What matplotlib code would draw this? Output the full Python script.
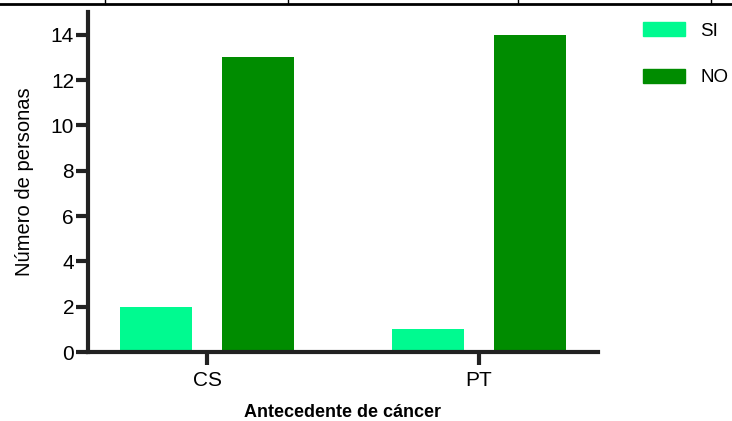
import numpy as np
import matplotlib.pyplot as plt
from matplotlib.lines import Line2D
from matplotlib.patches import Patch

categories = ["CS", "PT"]
si_vals = [2, 1]
no_vals = [13, 14]
series_names = ["SI", "NO"]

plt.rcParams['font.family'] = ['Liberation Sans', 'DejaVu Sans']

fig = plt.figure(figsize=(7.32, 4.21), dpi=100)
ax = fig.add_axes([88 / 732, (421 - 352) / 421, (598 - 88) / 732, (352 - 12) / 421])

x = np.arange(len(categories))
w = 0.268
off = 0.1875
c_si = "#00fa90"
c_no = "#008c00"
ax.bar(x - off, si_vals, w, color=c_si, label=series_names[0])
ax.bar(x + off, no_vals, w, color=c_no, label=series_names[1])

ax.set_xlim(-0.4375, 1.4375)
ax.set_ylim(0, 15)
ax.set_yticks(range(0, 15, 2))
ax.set_xticks(x)
ax.set_xticklabels(categories)

for s in ["top", "right"]:
    ax.spines[s].set_visible(False)
for s in ["left", "bottom"]:
    ax.spines[s].set_linewidth(3)
    ax.spines[s].set_color("#222222")
ax.tick_params(axis="y", length=9, width=3, color="#222222", labelsize=15, pad=1)
ax.tick_params(axis="x", length=9, width=3, color="#222222", labelsize=15, pad=5)

ax.set_ylabel("Número de personas", fontsize=14.5, labelpad=12)
ax.set_xlabel("Antecedente de cáncer", fontsize=13, fontweight="bold", labelpad=10)

handles = [Patch(color=c_si), Patch(color=c_no)]
leg = fig.legend(handles, series_names, loc="upper left", bbox_to_anchor=(643 / 732, 1 - 22 / 421),
                 frameon=False, fontsize=13.5, handlelength=2.24, handleheight=0.8,
                 labelspacing=1.55, handletextpad=0.8, borderpad=0, borderaxespad=0)

# cut-off table border at the top of the picture
fig.add_artist(Line2D([0, 1], [1 - 4 / 421, 1 - 4 / 421], color="black", lw=2))
for xv in [105, 288, 518, 711]:
    fig.add_artist(Line2D([xv / 732, xv / 732], [1 - 4 / 421, 1], color="black", lw=1))

fig.savefig("out.png", dpi=100)
